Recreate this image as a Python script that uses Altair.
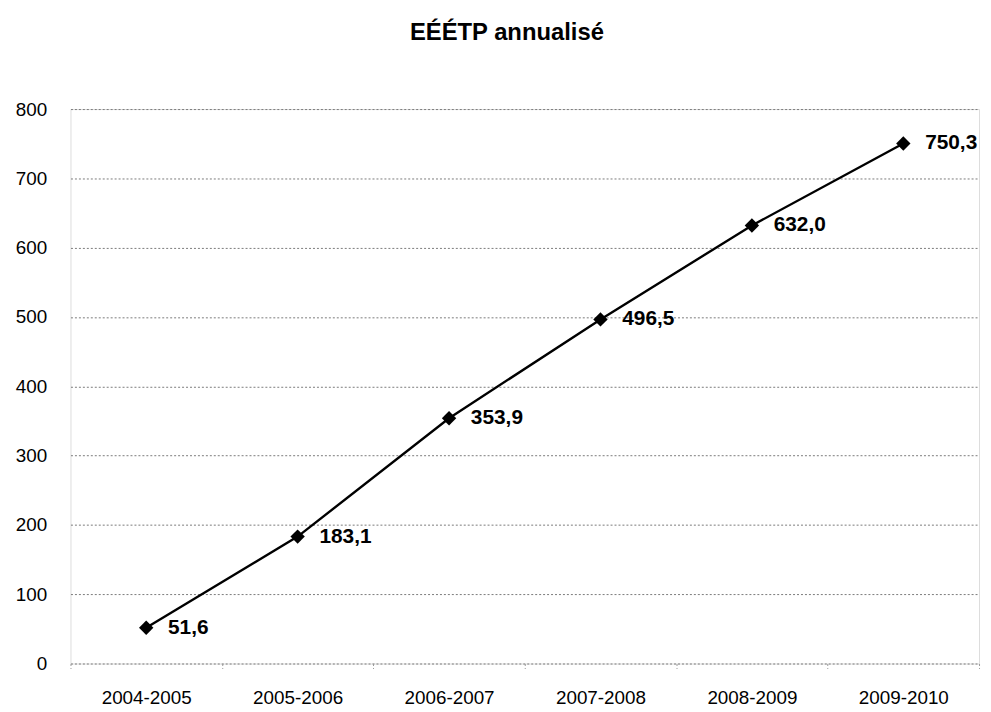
import altair as alt
import pandas as pd

categories = ["2004-2005", "2005-2006", "2006-2007", "2007-2008", "2008-2009", "2009-2010"]
values = [51.6, 183.1, 353.9, 496.5, 632.0, 750.3]
labels = [f"{v:.1f}".replace(".", ",") for v in values]

df = pd.DataFrame({"annee": categories, "eeetp": values, "label": labels})

FONT = "Liberation Sans"

x_enc = alt.X(
    "annee:N",
    sort=categories,
    title=None,
    scale=alt.Scale(paddingInner=0, paddingOuter=0),
    axis=alt.Axis(
        labelAngle=0,
        labelFontSize=19,
        labelFont=FONT,
        labelColor="#000",
        labelPadding=20,
        tickBand="extent",
        tickSize=5,
        tickColor="#999",
        tickDash=[2, 2],
        domain=False,
        grid=False,
    ),
)
y_enc = alt.Y(
    "eeetp:Q",
    title=None,
    scale=alt.Scale(domain=[0, 800], nice=False),
    axis=alt.Axis(
        values=list(range(0, 801, 100)),
        labelFontSize=19,
        labelFont=FONT,
        labelColor="#000",
        labelPadding=24,
        ticks=False,
        domain=False,
        grid=True,
        gridColor="#7a7a7a",
        gridDash=[2, 2],
        gridWidth=1,
    ),
)

base = alt.Chart(df).encode(x=x_enc, y=y_enc)

line = base.mark_line(color="#000", strokeWidth=2.4)
pts = base.mark_point(shape="diamond", filled=True, color="#000", size=210, opacity=1)
txt = base.mark_text(
    align="left", baseline="middle", dx=22, fontSize=21, fontWeight="bold", font=FONT, color="#000"
).encode(text="label:N")

chart = (
    alt.layer(line, pts, txt)
    .properties(
        width=916,
        height=559,
        autosize=alt.AutoSizeParams(type="none"),
        padding={"left": 63, "top": 99, "right": 4, "bottom": 45},
        title=alt.TitleParams(
            "EÉÉTP annualisé",
            fontSize=24,
            fontWeight="bold",
            font=FONT,
            color="#000",
            anchor="middle",
            frame="group",
            dx=-18,
            offset=56,
        ),
    )
    .configure_view(stroke="#7a7a7a", strokeDash=[2, 2], strokeWidth=1)
    .configure(background="white")
)

chart.save("out.html", embed_options={"renderer": "svg", "actions": False})
